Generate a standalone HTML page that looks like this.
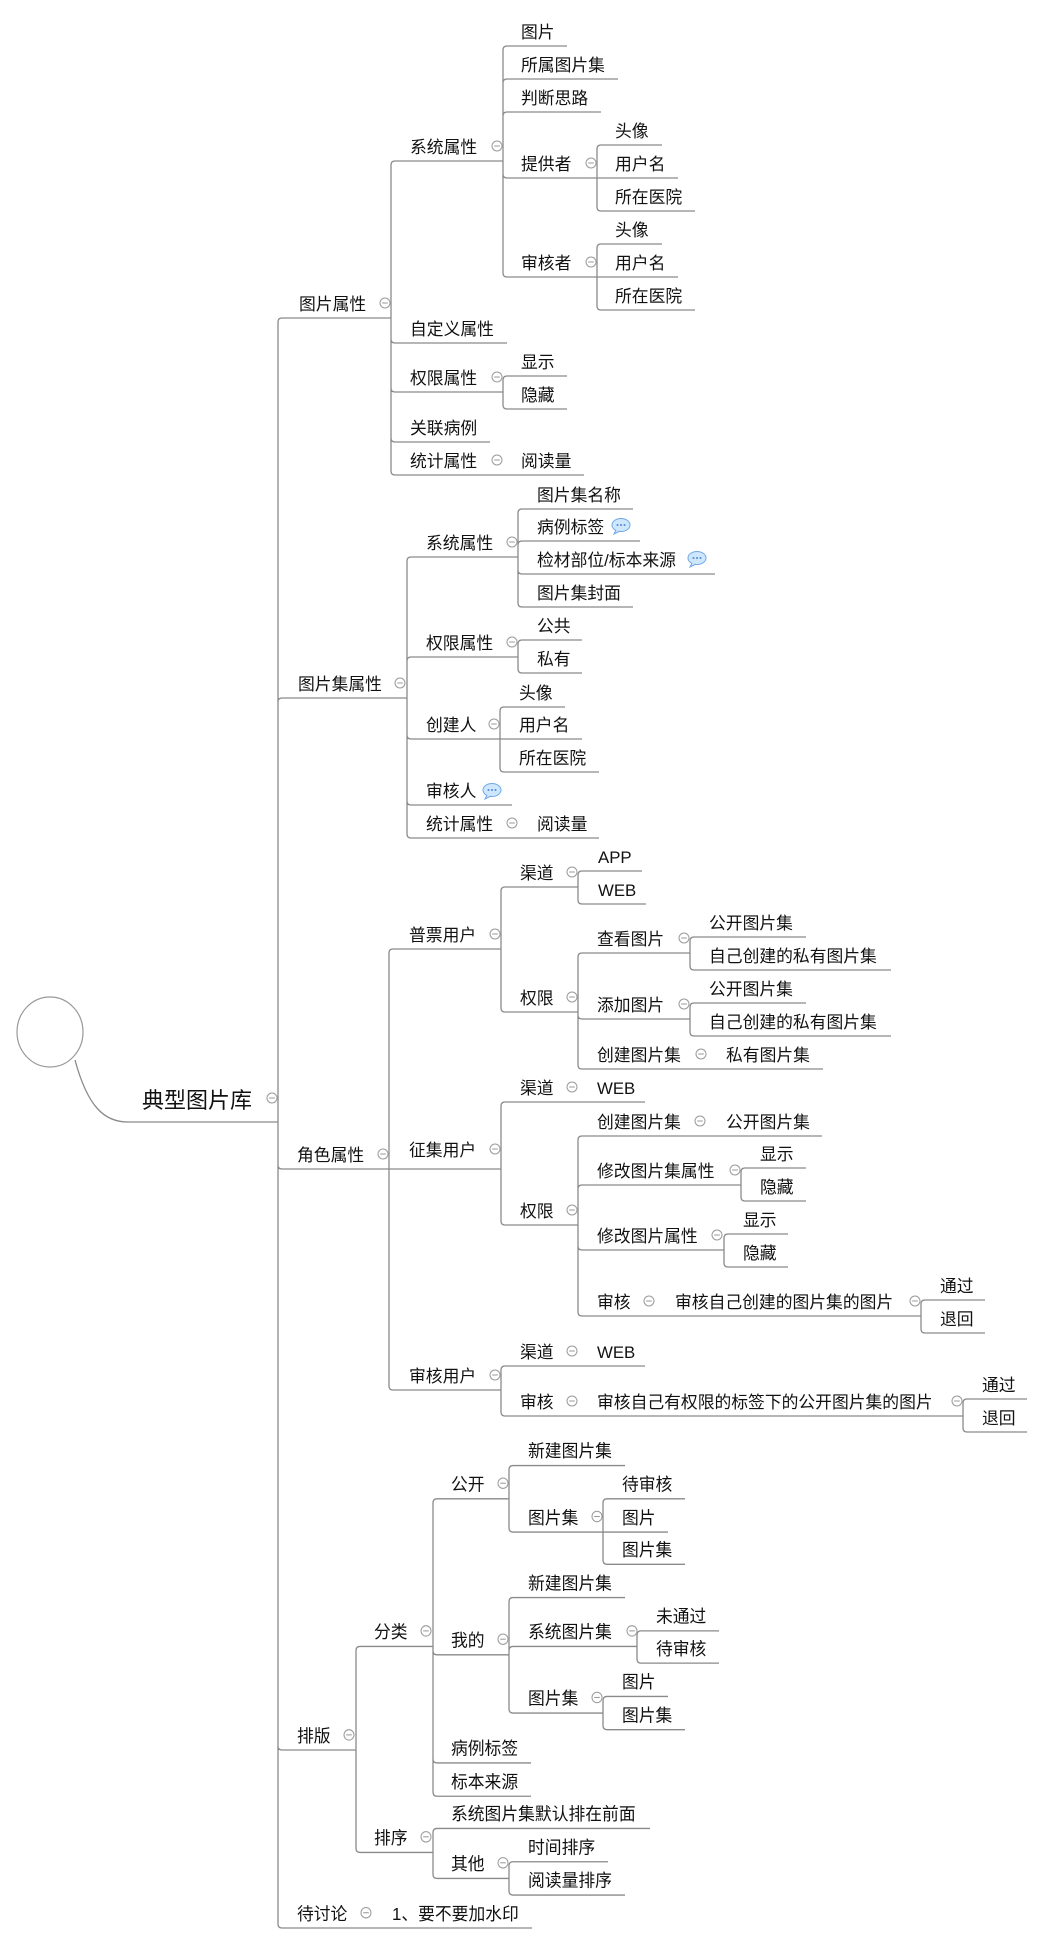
<!DOCTYPE html>
<html><head><meta charset="utf-8"><style>
html,body{margin:0;padding:0;background:#fff;}
svg{display:block;}
text{font-family:"Liberation Sans","Noto Sans CJK SC",sans-serif;font-size:16.8px;fill:#111;}
.l{fill:none;stroke:#8a8a8a;stroke-width:1.3;}
.i{fill:#fff;stroke:#9a9a9a;stroke-width:1;}
.m{stroke:#9a9a9a;stroke-width:1;}
</style></head><body>
<svg width="1041" height="1943" viewBox="0 0 1041 1943" xmlns="http://www.w3.org/2000/svg">
<defs>
<g id="ic"><circle class="i" cx="0" cy="0" r="5"/><line class="m" x1="-2.8" y1="0" x2="2.8" y2="0"/></g>
<g id="bb"><ellipse cx="8" cy="0" rx="9" ry="6.5" fill="#cfe6ff" stroke="#6fa9e6" stroke-width="1"/><path d="M3 5 L1 9 L7 6" fill="#cfe6ff" stroke="#6fa9e6" stroke-width="1"/><circle cx="4.5" cy="0" r="1" fill="#4a8ad8"/><circle cx="8" cy="0" r="1" fill="#4a8ad8"/><circle cx="11.5" cy="0" r="1" fill="#4a8ad8"/></g>
</defs>
<!-- root -->
<ellipse cx="50" cy="1032" rx="33" ry="35" fill="none" stroke="#999" stroke-width="1.2"/>
<path class="l" d="M75 1060 C88 1108 105 1122 128 1122 H278"/>
<text x="142" y="1108" style="font-size:22px">典型图片库</text>
<use href="#ic" x="272" y="1098"/>
<!-- connectors -->
<path class="l" d="
M278 1122 V322 Q278 318 282 318 H391
M278 1122 V702 Q278 698 282 698 H407
M278 1122 V1165 Q278 1169 282 1169 H389
M278 1122 V1746 Q278 1750 282 1750 H356
M278 1122 V1924 Q278 1928 282 1928 H532
M391 318 V165 Q391 161 395 161 H503
M391 318 V339 Q391 343 395 343 H507
M391 318 V388 Q391 392 395 392 H503
M391 318 V438 Q391 442 395 442 H490
M391 318 V471 Q391 475 395 475 H584
M503 161 V50 Q503 46 507 46 H567
M503 161 V83 Q503 79 507 79 H618
M503 161 V116 Q503 112 507 112 H601
M503 161 V174 Q503 178 507 178 H597
M503 161 V273 Q503 277 507 277 H597
M597 178 V149 Q597 145 601 145 H662
M597 178 H678
M597 178 V207 Q597 211 601 211 H695
M597 277 V248 Q597 244 601 244 H662
M597 277 H678
M597 277 V306 Q597 310 601 310 H695
M503 392 V380 Q503 376 507 376 H567
M503 392 V405 Q503 409 507 409 H567
M407 698 V561 Q407 557 411 557 H518
M407 698 V661 Q407 657 411 657 H518
M407 698 V735 Q407 739 411 739 H500
M407 698 V801 Q407 805 411 805 H512
M407 698 V834 Q407 838 411 838 H599
M518 557 V513 Q518 509 522 509 H633
M518 557 V545 Q518 541 522 541 H640
M518 557 V570 Q518 574 522 574 H715
M518 557 V603 Q518 607 522 607 H633
M518 657 V644 Q518 640 522 640 H582
M518 657 V669 Q518 673 522 673 H582
M500 739 V711 Q500 707 504 707 H565
M500 739 H582
M500 739 V768 Q500 772 504 772 H599
M389 1169 V953 Q389 949 393 949 H501
M389 1169 H501
M389 1169 V1386 Q389 1390 393 1390 H501
M501 949 V891 Q501 887 505 887 H578
M501 949 V1008 Q501 1012 505 1012 H578
M578 887 V875 Q578 871 582 871 H642
M578 887 V900 Q578 904 582 904 H646
M578 1012 V957 Q578 953 582 953 H690
M578 1012 V1015 Q578 1019 582 1019 H690
M578 1012 V1065 Q578 1069 582 1069 H823
M690 953 V941 Q690 937 694 937 H806
M690 953 V966 Q690 970 694 970 H891
M690 1019 V1007 Q690 1003 694 1003 H806
M690 1019 V1032 Q690 1036 694 1036 H891
M501 1164 V1106 Q501 1102 505 1102 H645
M501 1164 V1221 Q501 1225 505 1225 H578
M578 1225 V1140 Q578 1136 582 1136 H822
M578 1225 V1189 Q578 1185 582 1185 H741
M578 1225 V1246 Q578 1250 582 1250 H724
M578 1225 V1312 Q578 1316 582 1316 H921
M741 1185 V1172 Q741 1168 745 1168 H806
M741 1185 V1197 Q741 1201 745 1201 H806
M724 1250 V1238 Q724 1234 728 1234 H788
M724 1250 V1263 Q724 1267 728 1267 H788
M921 1316 V1304 Q921 1300 925 1300 H985
M921 1316 V1329 Q921 1333 925 1333 H985
M501 1390 V1370 Q501 1366 505 1366 H645
M501 1390 V1412 Q501 1416 505 1416 H963
M963 1416 V1403 Q963 1399 967 1399 H1027
M963 1416 V1428 Q963 1432 967 1432 H1027
"/>
<g transform="translate(0,-56) scale(1,1.04)">
<path class="l" d="
M356 1737 V1641 Q356 1637 360 1637 H433
M356 1737 V1831 Q356 1835 360 1835 H433
M433 1637 V1499 Q433 1495 437 1495 H509
M433 1637 V1641 Q433 1645 437 1645 H509
M433 1637 V1745 Q433 1749 437 1749 H531
M433 1637 V1777 Q433 1781 437 1781 H531
M509 1495 V1467 Q509 1463 513 1463 H625
M509 1495 V1523 Q509 1527 513 1527 H603
M603 1527 V1499 Q603 1495 607 1495 H685
M603 1527 H668
M603 1527 V1554 Q603 1558 607 1558 H685
M509 1645 V1594 Q509 1590 513 1590 H625
M509 1645 V1641 Q509 1637 513 1637 H637
M509 1645 V1697 Q509 1701 513 1701 H603
M637 1637 V1626 Q637 1622 641 1622 H719
M637 1637 V1649 Q637 1653 641 1653 H719
M603 1701 V1689 Q603 1685 607 1685 H668
M603 1701 V1713 Q603 1717 607 1717 H685
M433 1835 V1816 Q433 1812 437 1812 H650
M433 1835 V1856 Q433 1860 437 1860 H509
M509 1860 V1848 Q509 1844 513 1844 H608
M509 1860 V1872 Q509 1876 513 1876 H625
"/>
<text x="297" y="1729">排版</text><use href="#ic" x="349" y="1722"/>
<text x="374" y="1629">分类</text><use href="#ic" x="426" y="1622"/>
<text x="374" y="1827">排序</text><use href="#ic" x="426" y="1820"/>
<text x="451" y="1487">公开</text><use href="#ic" x="503" y="1480"/>
<text x="451" y="1637">我的</text><use href="#ic" x="503" y="1630"/>
<text x="451" y="1741">病例标签</text>
<text x="451" y="1773">标本来源</text>
<text x="451" y="1804">系统图片集默认排在前面</text>
<text x="451" y="1852">其他</text><use href="#ic" x="503" y="1845"/>
<text x="528" y="1455">新建图片集</text>
<text x="528" y="1519">图片集</text><use href="#ic" x="597" y="1512"/>
<text x="528" y="1582">新建图片集</text>
<text x="528" y="1629">系统图片集</text><use href="#ic" x="632" y="1622"/>
<text x="528" y="1693">图片集</text><use href="#ic" x="597" y="1686"/>
<text x="528" y="1836">时间排序</text>
<text x="528" y="1868">阅读量排序</text>
<text x="622" y="1487">待审核</text>
<text x="622" y="1519">图片</text>
<text x="622" y="1550">图片集</text>
<text x="622" y="1677">图片</text>
<text x="622" y="1709">图片集</text>
<text x="656" y="1614">未通过</text>
<text x="656" y="1645">待审核</text>
<text x="297" y="1900">待讨论</text><use href="#ic" x="366" y="1893"/>
<text x="392" y="1900">1、要不要加水印</text>
</g>
<!-- texts -->
<text x="299" y="310">图片属性</text><use href="#ic" x="385" y="303"/>
<text x="410" y="153">系统属性</text><use href="#ic" x="497" y="146"/>
<text x="521" y="38">图片</text>
<text x="521" y="71">所属图片集</text>
<text x="521" y="104">判断思路</text>
<text x="521" y="170">提供者</text><use href="#ic" x="591" y="163"/>
<text x="521" y="269">审核者</text><use href="#ic" x="591" y="262"/>
<text x="615" y="137">头像</text>
<text x="615" y="170">用户名</text>
<text x="615" y="203">所在医院</text>
<text x="615" y="236">头像</text>
<text x="615" y="269">用户名</text>
<text x="615" y="302">所在医院</text>
<text x="410" y="335">自定义属性</text>
<text x="410" y="384">权限属性</text><use href="#ic" x="497" y="377"/>
<text x="410" y="434">关联病例</text>
<text x="410" y="467">统计属性</text><use href="#ic" x="497" y="460"/>
<text x="521" y="368">显示</text>
<text x="521" y="401">隐藏</text>
<text x="521" y="467">阅读量</text>

<text x="298" y="690">图片集属性</text><use href="#ic" x="400" y="683"/>
<text x="426" y="549">系统属性</text><use href="#ic" x="512" y="542"/>
<text x="426" y="649">权限属性</text><use href="#ic" x="512" y="642"/>
<text x="426" y="731">创建人</text><use href="#ic" x="494" y="724"/>
<text x="426" y="797">审核人</text><use href="#bb" x="484" y="790"/>
<text x="426" y="830">统计属性</text><use href="#ic" x="512" y="823"/>
<text x="537" y="501">图片集名称</text>
<text x="537" y="533">病例标签</text><use href="#bb" x="613" y="525"/>
<text x="537" y="566">检材部位/标本来源</text><use href="#bb" x="689" y="558"/>
<text x="537" y="599">图片集封面</text>
<text x="537" y="632">公共</text>
<text x="537" y="665">私有</text>
<text x="537" y="830">阅读量</text>
<text x="519" y="699">头像</text>
<text x="519" y="731">用户名</text>
<text x="519" y="764">所在医院</text>

<text x="297" y="1161">角色属性</text><use href="#ic" x="383" y="1154"/>
<text x="409" y="941">普票用户</text><use href="#ic" x="495" y="934"/>
<text x="409" y="1156">征集用户</text><use href="#ic" x="495" y="1149"/>
<text x="409" y="1382">审核用户</text><use href="#ic" x="495" y="1375"/>
<text x="520" y="879">渠道</text><use href="#ic" x="572" y="872"/>
<text x="520" y="1004">权限</text><use href="#ic" x="572" y="997"/>
<text x="520" y="1094">渠道</text><use href="#ic" x="572" y="1087"/>
<text x="520" y="1217">权限</text><use href="#ic" x="572" y="1210"/>
<text x="520" y="1358">渠道</text><use href="#ic" x="572" y="1351"/>
<text x="520" y="1408">审核</text><use href="#ic" x="572" y="1401"/>
<text x="598" y="863">APP</text>
<text x="598" y="896">WEB</text>
<text x="597" y="945">查看图片</text><use href="#ic" x="684" y="938"/>
<text x="597" y="1011">添加图片</text><use href="#ic" x="684" y="1004"/>
<text x="597" y="1061">创建图片集</text><use href="#ic" x="701" y="1054"/>
<text x="597" y="1094">WEB</text>
<text x="597" y="1128">创建图片集</text><use href="#ic" x="700" y="1121"/>
<text x="597" y="1177">修改图片集属性</text><use href="#ic" x="735" y="1170"/>
<text x="597" y="1242">修改图片属性</text><use href="#ic" x="717" y="1235"/>
<text x="597" y="1308">审核</text><use href="#ic" x="649" y="1301"/>
<text x="597" y="1358">WEB</text>
<text x="597" y="1408">审核自己有权限的标签下的公开图片集的图片</text><use href="#ic" x="957" y="1401"/>
<text x="709" y="929">公开图片集</text>
<text x="709" y="962">自己创建的私有图片集</text>
<text x="709" y="995">公开图片集</text>
<text x="709" y="1028">自己创建的私有图片集</text>
<text x="726" y="1061">私有图片集</text>
<text x="726" y="1128">公开图片集</text>
<text x="760" y="1160">显示</text>
<text x="760" y="1193">隐藏</text>
<text x="743" y="1226">显示</text>
<text x="743" y="1259">隐藏</text>
<text x="675" y="1308">审核自己创建的图片集的图片</text><use href="#ic" x="915" y="1301"/>
<text x="940" y="1292">通过</text>
<text x="940" y="1325">退回</text>
<text x="982" y="1391">通过</text>
<text x="982" y="1424">退回</text>
</svg>
</body></html>
